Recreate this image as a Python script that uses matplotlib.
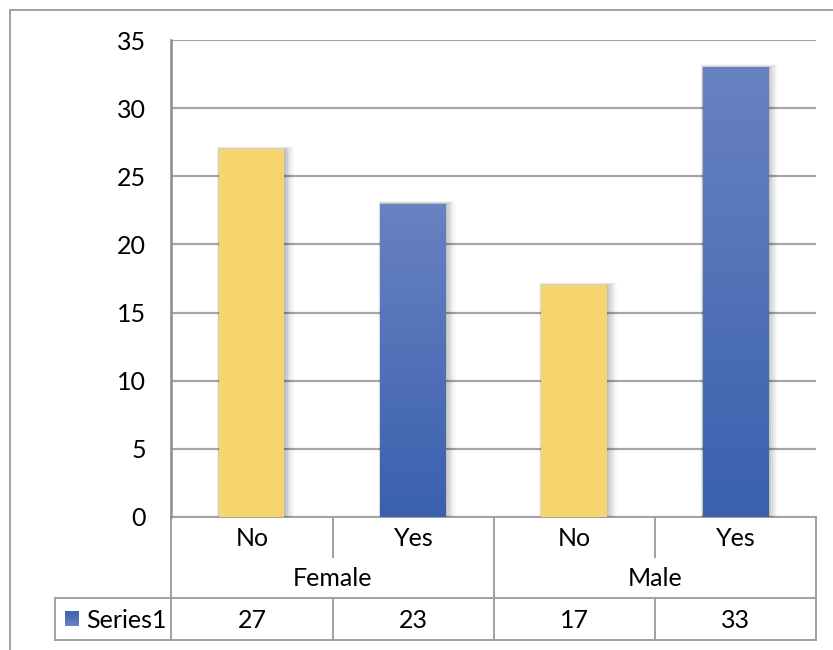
import matplotlib.pyplot as plt
import numpy as np
from matplotlib.colors import LinearSegmentedColormap
from matplotlib.patches import Rectangle

plt.rcParams['font.family'] = ['Lato', 'DejaVu Sans']

# data
groups = ['Female', 'Male']
answers = ['No', 'Yes', 'No', 'Yes']
values = [27, 23, 17, 33]
series_name = 'Series1'
yticks = [0, 5, 10, 15, 20, 25, 30, 35]

W, H = 833, 650
fig = plt.figure(figsize=(W / 100, H / 100), dpi=100)

# plot area in pixels
left, right, top, bottom = 171, 816, 40, 517
ax = fig.add_axes([left / W, 1 - bottom / H, (right - left) / W, (bottom - top) / H])

yellow = '#F6D46E'
blue_top = '#6882C2'
blue_bot = '#3A60AE'
blue_map = LinearSegmentedColormap.from_list('bl', [blue_bot, blue_top])

x = np.arange(len(values))
bw = 0.405
colors = [yellow if a == 'No' else 'blue' for a in answers]

# soft shadow behind the bars, heavier on the right
for xi, v in zip(x, values):
    for k, a in enumerate([0.07, 0.06, 0.05, 0.04, 0.03, 0.02]):
        d = 0.007 * (k + 1)
        ax.add_patch(Rectangle((xi - bw / 2 - d * 0.3, 0), bw + d * 1.8, v + d * 5,
                               color='black', alpha=a, lw=0, zorder=2))

bars = ax.bar(x, values, bw, color=[yellow if c == yellow else blue_bot for c in colors],
              zorder=3, linewidth=0)

# vertical gradient for the "Yes" bars
grad = np.linspace(0, 1, 256).reshape(-1, 1)
for b, c in zip(bars, colors):
    if c == 'blue':
        x0, y0 = b.get_x(), b.get_y()
        im = ax.imshow(grad, cmap=blue_map, origin='lower', aspect='auto',
                       extent=[x0, x0 + b.get_width(), y0, y0 + b.get_height()], zorder=4)
        im.set_clip_path(b)

ax.set_xlim(-0.5, 3.5)
ax.set_ylim(0, 35)
ax.set_yticks(yticks)
ax.set_yticklabels([str(t) for t in yticks], fontsize=18)
ax.tick_params(axis='y', length=0, pad=18)
ax.set_xticks([])
ax.grid(axis='y', color='#A6A6A6', lw=1.6, zorder=1)
ax.set_axisbelow(True)
for s in ['top', 'right', 'bottom']:
    ax.spines[s].set_visible(False)
ax.spines['left'].set_color('#8C8C8C')
ax.spines['left'].set_linewidth(1.8)

# overlay in pixel coordinates for the frame and the data table
ov = fig.add_axes([0, 0, 1, 1], zorder=-1)
ov.set_xlim(0, W)
ov.set_ylim(H, 0)
ov.axis('off')

lc = '#A0A0A0'
def hl(y, x0, x1):
    ov.plot([x0, x1], [y, y], color=lc, lw=1.4)
def vl(xp, y0, y1):
    ov.plot([xp, xp], [y0, y1], color=lc, lw=1.4)

# chart frame
hl(10, 10, W)
vl(10, 10, H)

cols = [171, 333, 494, 655, 816]
r1, r2, r3, r4 = 517, 557, 598, 640

hl(r1, 171, 816)
hl(r3, 55, 816)
hl(r4, 55, 816)
vl(171, r1, r4)
vl(494, r1, r4)
vl(816, r1, r4)
vl(333, r1, r2)
vl(655, r1, r2)
vl(333, r3, r4)
vl(655, r3, r4)
vl(55, r3, r4)

fs = 18
for i, a in enumerate(answers):
    cx = (cols[i] + cols[i + 1]) / 2
    ov.text(cx, (r1 + r2) / 2 + 1, a, ha='center', va='center', fontsize=fs)
    ov.text(cx, (r3 + r4) / 2 + 1, str(values[i]), ha='center', va='center', fontsize=fs)
for j, g in enumerate(groups):
    cx = (cols[2 * j] + cols[2 * j + 2]) / 2
    ov.text(cx, (r2 + r3) / 2 + 1, g, ha='center', va='center', fontsize=fs)

# legend key and series name
key = Rectangle((65, 611), 14, 15, lw=0)
ov.add_patch(key)
kim = ov.imshow(grad, cmap=blue_map, origin='upper', aspect='auto',
                extent=[65, 79, 626, 611])
kim.set_clip_path(key)
key.set_visible(False)
ov.text(86, (r3 + r4) / 2 + 1, series_name, ha='left', va='center', fontsize=fs)

fig.savefig('out.png', dpi=100)
